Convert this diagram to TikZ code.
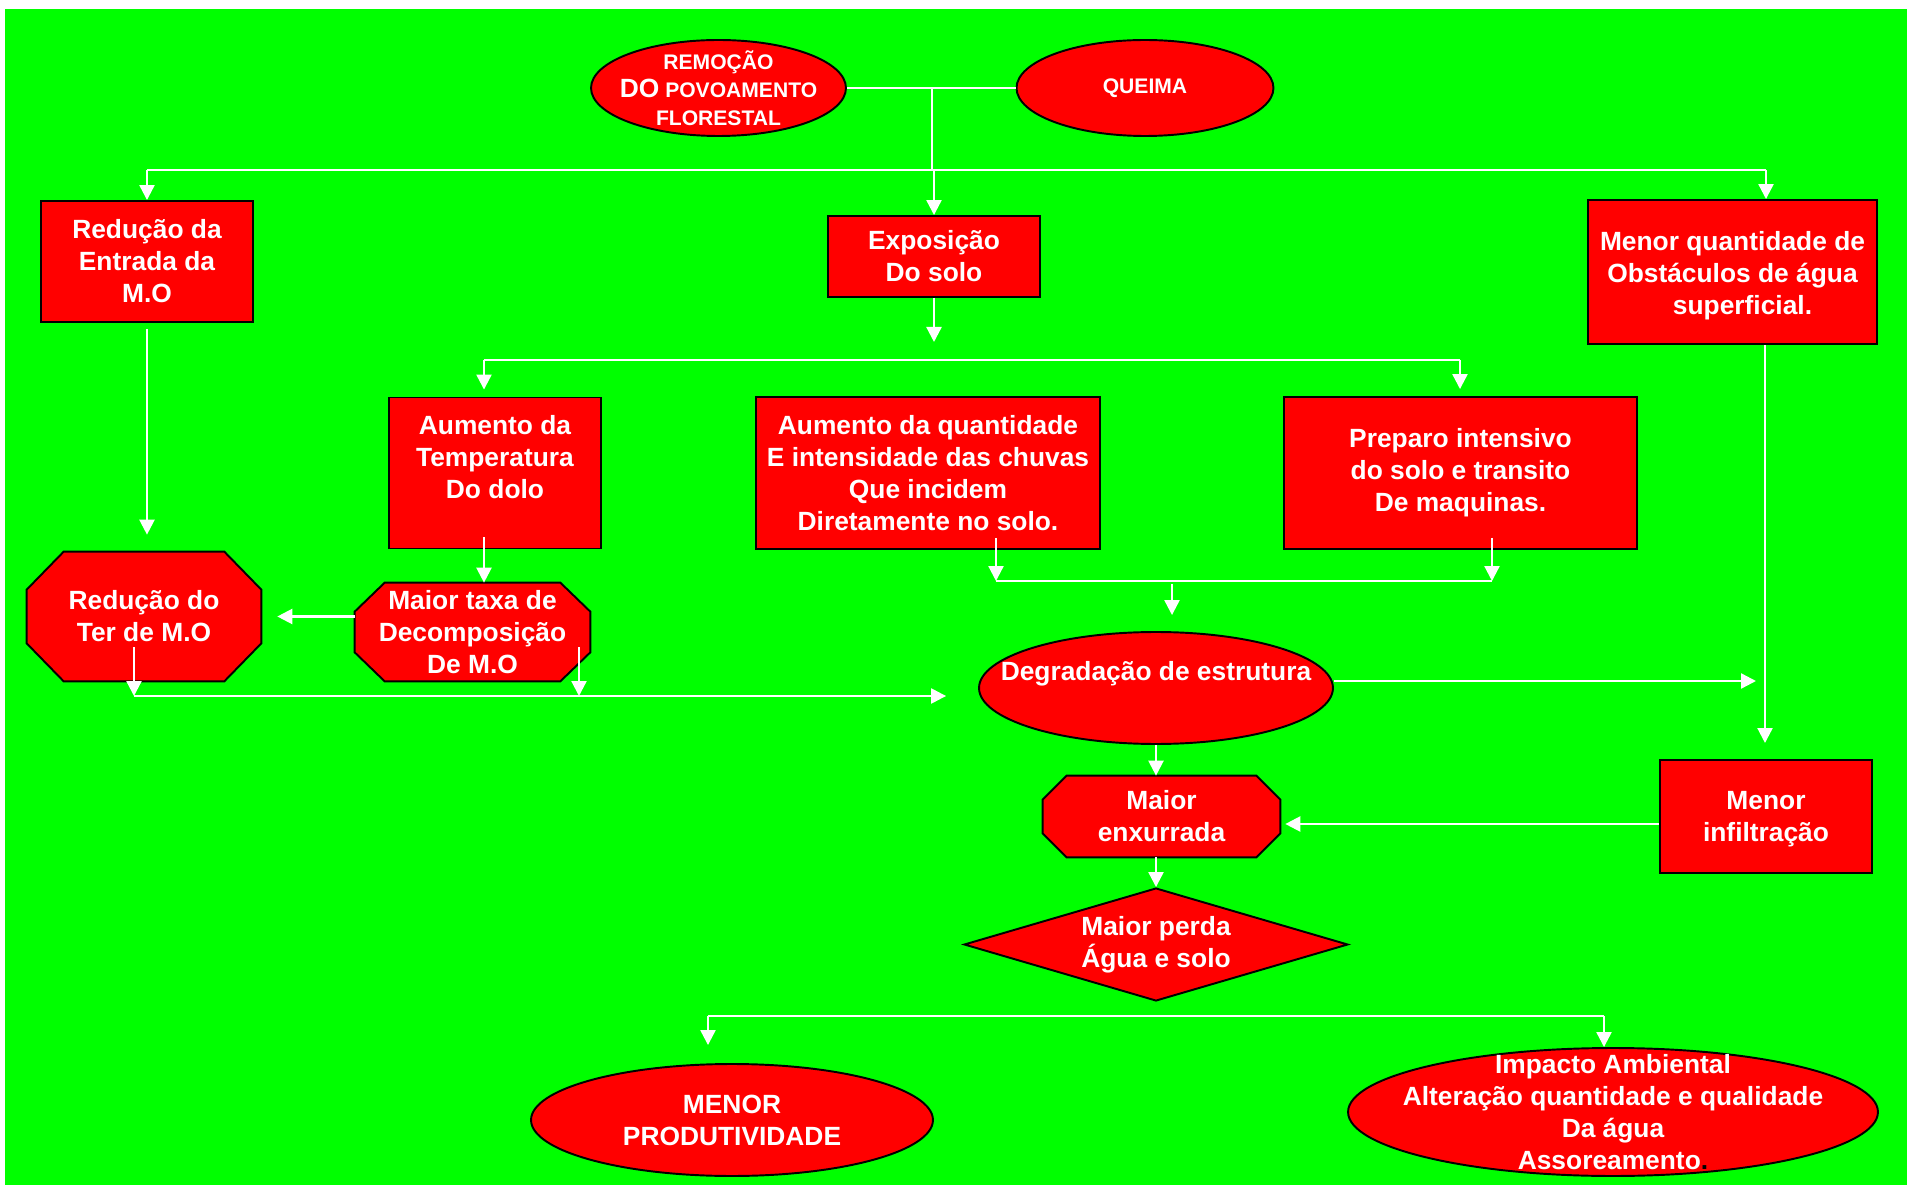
\documentclass[tikz,border=0pt]{standalone}
\usepackage{fontspec}
\setmainfont{Liberation Sans}
\usetikzlibrary{shapes.geometric,arrows.meta,backgrounds}
\definecolor{fieldgreen}{RGB}{0,255,0}
\definecolor{flowred}{RGB}{255,0,0}
% octagon outline round an empty node, drawn behind its label
\newcommand\cutcorners[3]{%
  \begin{scope}[on background layer]
    \draw[box] ([xshift=#2]#1.north west) -- ([xshift=-#2]#1.north east) -- ([yshift=-#3]#1.north east)
      -- ([yshift=#3]#1.south east) -- ([xshift=-#2]#1.south east) -- ([xshift=#2]#1.south west)
      -- ([yshift=#3]#1.south west) -- ([yshift=-#3]#1.north west) -- cycle;
  \end{scope}}
\begin{document}
\begin{tikzpicture}[x=0.02cm,y=-0.02cm,
    box/.style={draw=black,line width=1.1pt,fill=flowred,inner sep=0pt},
    txt/.style={text=white,font=\bfseries\fontsize{15}{18.2}\selectfont,align=center,inner sep=0pt},
    say/.style={label={[txt]center:{#1}}},
    oval/.style={box,ellipse},
    cut/.style={inner sep=0pt},
    wire/.style={draw=white,line width=1.3pt},
    flow/.style={wire,-{Triangle[length=0.3cm,width=0.3cm]}}]
        \begin{scope}[on background layer]
        \fill[white] (0,0) rectangle (1907,1185);
        \fill[fieldgreen] (4.5,9) rectangle (1907,1185);
        \end{scope}
        % causes
        \node[oval,minimum width=5.10cm,minimum height=1.92cm,
            label={[txt,font=\bfseries\fontsize{12}{16}\selectfont]center:{REMOÇÃO\\{\fontsize{15}{16}\selectfont DO} POVOAMENTO\\FLORESTAL}}] (remocao) at (718.5,88) {};
        \node[oval,minimum width=5.14cm,minimum height=1.92cm,
            label={[txt,font=\bfseries\fontsize{12}{16}\selectfont]center:QUEIMA}] (queima) at (1145,88) {};
        % first row
        \node[box,minimum width=4.24cm,minimum height=2.42cm,say={Redução da\\Entrada da\\M.O}] (reducaoEntrada) at (147,261.5) {};
        \node[box,minimum width=4.24cm,minimum height=1.62cm,say={Exposição\\Do solo}] (exposicao) at (934,256.5) {};
        \node[box,minimum width=5.78cm,minimum height=2.88cm,
            label={[txt,yshift=-0.07cm]center:{Menor quantidade de\\Obstáculos de água\\\hspace*{0.4cm}superficial.}}] (menorObst) at (1732.5,272) {};
        % second row
        \node[box,minimum width=4.24cm,minimum height=3.02cm,
            label={[txt,yshift=0.32cm]center:{Aumento da\\Temperatura\\Do dolo}}] (aumentoTemp) at (495,473) {};
        \node[box,minimum width=6.88cm,minimum height=3.04cm,say={Aumento da quantidade\\E intensidade das chuvas\\Que incidem\\Diretamente no solo.}] (aumentoChuva) at (928,473) {};
        \node[box,minimum width=7.06cm,minimum height=3.04cm,say={Preparo intensivo\\do solo e transito\\De maquinas.}] (preparo) at (1460.5,473) {};
        % third row
        \node[cut,minimum width=4.68cm,minimum height=2.58cm,say={Redução do\\Ter de M.O}] (reducaoTer) at (144,616.5) {};
        \cutcorners{reducaoTer}{0.74cm}{0.76cm}
        \node[cut,minimum width=4.70cm,minimum height=1.96cm,say={Maior taxa de\\Decomposição\\De M.O}] (maiorTaxa) at (472.5,632) {};
        \cutcorners{maiorTaxa}{0.60cm}{0.58cm}
        \node[oval,minimum width=7.08cm,minimum height=2.24cm,
            label={[txt,yshift=0.28cm]center:Degradação de estrutura}] (degradacao) at (1156,688) {};
        \node[box,minimum width=4.24cm,minimum height=2.26cm,
            label={[txt,yshift=-0.05cm]center:{Menor\\infiltração}}] (menorInfil) at (1766,816.5) {};
        \node[cut,minimum width=4.74cm,minimum height=1.62cm,say={Maior\\enxurrada}] (enxurrada) at (1161.5,816.5) {};
        \cutcorners{enxurrada}{0.48cm}{0.48cm}
        \node[box,diamond,minimum width=7.68cm,minimum height=2.26cm,say={Maior perda\\Água e solo}] (perda) at (1156,944.5) {};
        % effects
        \node[oval,minimum width=8.04cm,minimum height=2.24cm,say={MENOR\\PRODUTIVIDADE}] (produtividade) at (732,1120) {};
        \node[oval,minimum width=10.60cm,minimum height=2.56cm,
            say={Impacto Ambiental\\Alteração quantidade e qualidade\\Da água\\Assoreamento\textcolor{black}{.}}] (impacto) at (1613,1112) {};
        % junctions
        \coordinate (busA) at (932,170);
        \coordinate (busAleft) at (147,170);
        \coordinate (busAright) at (1766,170);
        \coordinate (expoTip) at (934,342);
        \coordinate (busBleft) at (484,360);
        \coordinate (busBright) at (1460,360);
        \coordinate (terOut) at (134,647);
        \coordinate (taxaOut) at (579,647);
        \coordinate (busCleft) at (134,696);
        \coordinate (busCmid) at (579,696);
        \coordinate (busDleft) at (996,581);
        \coordinate (busDright) at (1492,581);
        \coordinate (busDmid) at (1172,584);
        \coordinate (degrTip) at (1756,681);
        \coordinate (infilTip) at (1765,743);
        \coordinate (busEleft) at (708,1016);
        \coordinate (busEright) at (1604,1016);
        % top bus
        \draw[wire] (remocao.east) -- (queima.west);
        \draw[wire] (remocao.east -| busA) -- (busA);
        \draw[wire] (busAleft) -- (busAright);
        \draw[flow] (busAleft) -- (reducaoEntrada.north);
        \draw[flow] (exposicao.north |- busA) -- (exposicao.north);
        \draw[flow] (busAright) -- (busAright |- menorObst.north);
        % exposure bus
        \draw[flow] (exposicao.south) -- (expoTip);
        \draw[wire] (busBleft) -- (busBright);
        \draw[flow,shorten >=0.14cm] (busBleft) -- (busBleft |- aumentoTemp.north);
        \draw[flow,shorten >=0.14cm] (busBright) -- (busBright |- preparo.north);
        % left side
        \draw[flow,shorten <=0.12cm,shorten >=0.34cm] (reducaoEntrada.south) -- (reducaoEntrada.south |- reducaoTer.north);
        \draw[flow,shorten <=-0.24cm] (busBleft |- aumentoTemp.south) -- (busBleft |- maiorTaxa.north);
        \draw[flow,shorten >=0.32cm] (maiorTaxa.west |- reducaoTer.east) -- (reducaoTer.east);
        \draw[flow] (terOut) -- (busCleft);
        \draw[flow] (taxaOut) -- (busCmid);
        \draw[flow,shorten >=0.64cm] (busCleft) -- (busCleft -| degradacao.west);
        % rain and machines
        \draw[flow,shorten <=-0.24cm] (busDleft |- aumentoChuva.south) -- (busDleft);
        \draw[flow,shorten <=-0.24cm] (busDright |- preparo.south) -- (busDright);
        \draw[wire] (busDleft) -- (busDright);
        \draw[flow,shorten >=0.32cm] (busDmid) -- (busDmid |- degradacao.north);
        % right side
        \draw[flow] (degradacao.east |- degrTip) -- (degrTip);
        \draw[flow] (infilTip |- menorObst.south) -- (infilTip);
        \draw[flow] (degradacao.south) -- (degradacao.south |- enxurrada.north);
        \draw[flow,shorten >=0.1cm] ([yshift=-0.15cm]menorInfil.west) -- ([yshift=-0.15cm]enxurrada.east);
        \draw[flow] (perda.north |- enxurrada.south) -- (perda.north);
        % effects bus
        \draw[wire] (busEleft) -- (busEright);
        \draw[flow,shorten >=0.36cm] (busEleft) -- (busEleft |- produtividade.north);
        \draw[flow] (busEright) -- (busEright |- impacto.north);
\end{tikzpicture}
\end{document}
